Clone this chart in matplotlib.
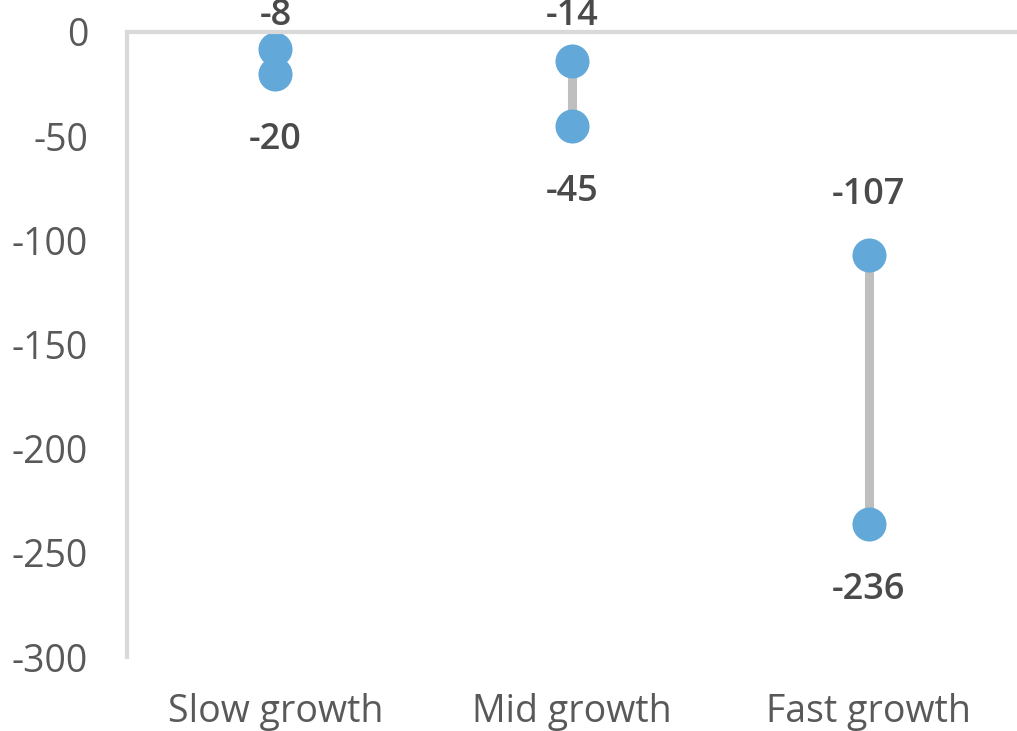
import matplotlib
matplotlib.use("Agg")
import matplotlib.pyplot as plt

categories = ["Slow growth", "Mid growth", "Fast growth"]
upper = [-8, -14, -107]
lower = [-20, -45, -236]
yticks = [0, -50, -100, -150, -200, -250, -300]

plt.rcParams['font.family'] = ['Open Sans', 'DejaVu Sans']

fig = plt.figure(figsize=(10.17, 7.31), dpi=100)
ax = fig.add_axes([127/1017, 1-657/731, 1-127/1017, (657-32)/731])

x = list(range(len(categories)))
ax.vlines(x, lower, upper, color="#bfbfbf", lw=6.5, zorder=1)
ax.scatter(x, upper, s=34**2*0.52, color="#62a8d8", zorder=2, linewidths=0)
ax.scatter(x, lower, s=34**2*0.52, color="#62a8d8", zorder=2, linewidths=0)

lab_kw = dict(ha="center", va="center", fontsize=26, fontweight="semibold", color="#4a4a4a")
for xi, u, l in zip(x, upper, lower):
    ax.text(xi, min(u + 29, 7.5), f"{u}", **lab_kw, clip_on=False)
    ax.text(xi, l - 32, f"{l}", **lab_kw, clip_on=False)

ax.set_xlim(-0.5, 2.5)
ax.set_ylim(-300, 0)
ax.set_yticks(yticks)
ax.set_yticklabels([str(v) for v in yticks])
ax.set_xticks(x)
ax.set_xticklabels(categories)
ax.tick_params(axis="y", length=0, pad=28, labelsize=27, labelcolor="#595959")
ax.tick_params(axis="x", length=0, pad=26, labelsize=27, labelcolor="#595959")

for s in ["right", "bottom"]:
    ax.spines[s].set_visible(False)
for s in ["left", "top"]:
    ax.spines[s].set_color("#d9d9d9")
    ax.spines[s].set_linewidth(3)

fig.savefig("out.png", dpi=100)
